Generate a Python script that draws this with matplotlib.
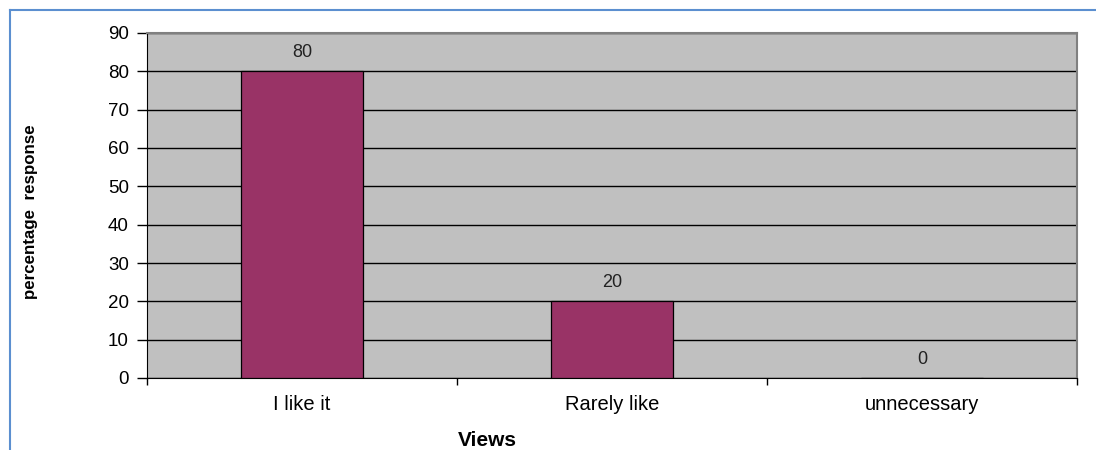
import matplotlib.pyplot as plt
from matplotlib.lines import Line2D

views = ["I like it", "Rarely like", "unnecessary"]
percent = [80, 20, 0]
y_ticks = list(range(0, 100, 10))

plt.rcParams['font.family'] = ['Liberation Sans', 'DejaVu Sans']

fig = plt.figure(figsize=(10.96, 4.5), dpi=100, facecolor='white')
ax = fig.add_axes([147 / 1096, 1 - 378 / 450, 930 / 1096, 345 / 450])
ax.set_facecolor('#C0C0C0')

pos = list(range(len(views)))
ax.bar(pos, percent, width=0.395, color='#993366', edgecolor='black', linewidth=0.9, zorder=3)
for x, v in zip(pos, percent):
    ax.text(x, v + 2.6, str(v), ha='center', va='bottom', fontsize=13, color='#222222', zorder=4)

ax.set_xlim(-0.5, len(views) - 0.5)
ax.set_ylim(0, 90)
ax.set_yticks(y_ticks)
ax.tick_params(axis='y', direction='out', length=7, width=1, labelsize=13.5, pad=6)
ax.yaxis.grid(True, color='black', linewidth=1, zorder=1)
ax.set_axisbelow(True)

# category labels at centres, tick marks between categories
ax.set_xticks([p - 0.5 for p in pos] + [len(views) - 0.5])
ax.set_xticklabels([])
ax.tick_params(axis='x', direction='out', length=5, width=1)
ax.set_xticks(pos, minor=True)
ax.set_xticklabels(views, minor=True, fontsize=14.5)
ax.tick_params(axis='x', which='minor', length=0, pad=12)

for side in ['top', 'right']:
    ax.spines[side].set_color('#808080')
    ax.spines[side].set_linewidth(1.5)
ax.spines['left'].set_color('black')
ax.spines['bottom'].set_color('black')

fig.text(31 / 1096, 1 - 212 / 450, "percentage  response", rotation=90, ha='center', va='center',
         fontsize=12.2, fontweight='bold')
fig.text(487 / 1096, 1 - 440 / 450, "Views", ha='center', va='center', fontsize=15, fontweight='bold')

# outer frame lines
fig.add_artist(Line2D([10 / 1096, 10 / 1096], [0, 1 - 10 / 450], color='#5B8FD0', linewidth=1.5))
fig.add_artist(Line2D([10 / 1096, 1], [1 - 10 / 450, 1 - 10 / 450], color='#5B8FD0', linewidth=1.5))

fig.savefig("out.png", dpi=100, facecolor='white')
